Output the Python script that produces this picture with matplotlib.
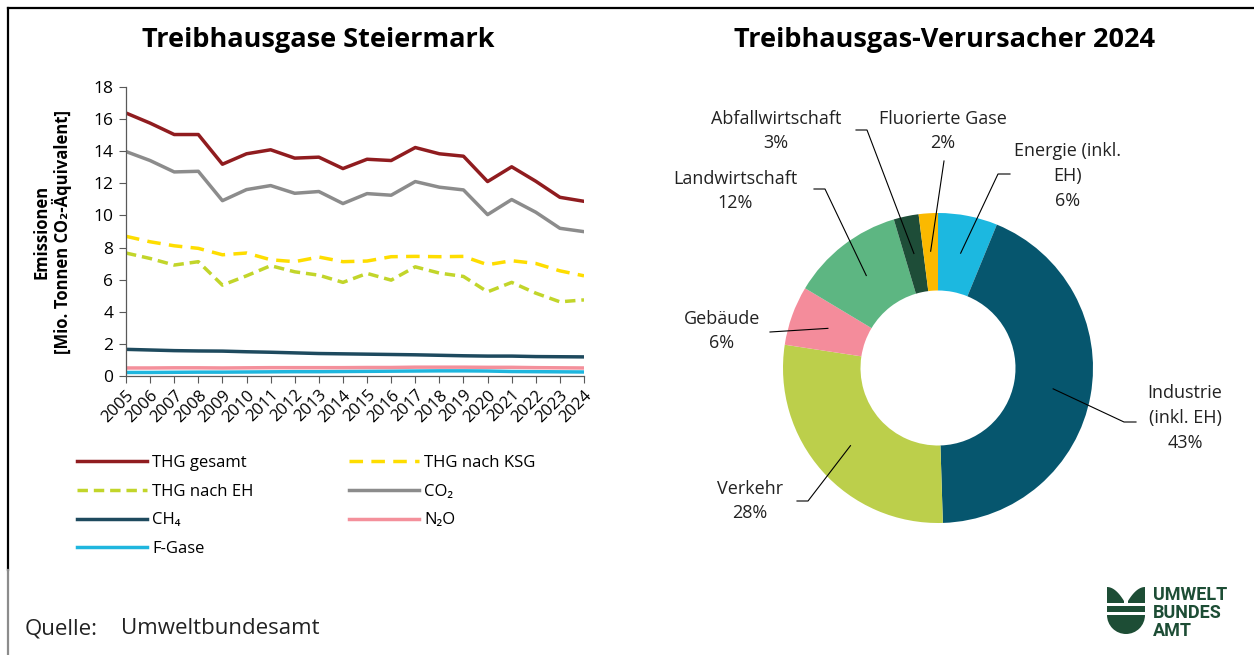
import matplotlib
matplotlib.use("Agg")
import numpy as np
import matplotlib.pyplot as plt
from matplotlib.lines import Line2D
from matplotlib.patches import Wedge, Rectangle, Polygon

plt.rcParams['font.family'] = ['Open Sans', 'DejaVu Sans']

W, H = 1254, 655

# ---- data: line chart ----
years = list(range(2005, 2025))
thg_gesamt = [16.38, 15.75, 15.04, 15.04, 13.19, 13.84, 14.09, 13.57, 13.63, 12.92,
              13.50, 13.42, 14.23, 13.84, 13.69, 12.11, 13.03, 12.13, 11.13, 10.88]
thg_ksg = [8.70, 8.36, 8.11, 7.95, 7.55, 7.66, 7.24, 7.12, 7.41, 7.12,
           7.16, 7.43, 7.45, 7.43, 7.45, 6.93, 7.18, 7.01, 6.55, 6.24]
thg_eh = [7.66, 7.32, 6.91, 7.12, 5.66, 6.24, 6.87, 6.49, 6.28, 5.83,
          6.39, 5.97, 6.80, 6.41, 6.20, 5.24, 5.83, 5.16, 4.62, 4.74]
co2 = [13.98, 13.42, 12.71, 12.75, 10.92, 11.61, 11.86, 11.38, 11.49, 10.74,
       11.36, 11.26, 12.11, 11.76, 11.59, 10.05, 10.99, 10.20, 9.20, 8.99]
ch4 = [1.66, 1.62, 1.58, 1.56, 1.55, 1.51, 1.48, 1.44, 1.40, 1.38,
       1.36, 1.34, 1.32, 1.29, 1.26, 1.24, 1.24, 1.21, 1.20, 1.19]
n2o = [0.50, 0.50, 0.51, 0.51, 0.50, 0.51, 0.52, 0.52, 0.52, 0.52,
       0.53, 0.53, 0.55, 0.55, 0.55, 0.54, 0.54, 0.52, 0.51, 0.50]
fgase = [0.22, 0.22, 0.23, 0.24, 0.24, 0.25, 0.26, 0.27, 0.27, 0.28,
         0.29, 0.30, 0.31, 0.32, 0.32, 0.31, 0.28, 0.27, 0.26, 0.25]

# ---- data: donut ----
sectors = ['Energie (inkl.\nEH)', 'Industrie\n(inkl. EH)', 'Verkehr', 'Gebäude',
           'Landwirtschaft', 'Abfallwirtschaft', 'Fluorierte Gase']
shares = [6.2, 43.3, 27.9, 6.2, 11.8, 2.6, 2.0]
share_labels = ['6%', '43%', '28%', '6%', '12%', '3%', '2%']
sector_colors = ['#1cb8e0', '#06566e', '#bccf4b', '#f48c9b', '#5db682', '#1e4d38', '#fbb900']

fig = plt.figure(figsize=(W / 100, H / 100), dpi=100)


def fx(x):
    return x / W


def fy(y):
    return 1 - y / H


# frame lines
fig.add_artist(Line2D([fx(8), 1], [fy(8), fy(8)], color='black', lw=1.6))
fig.add_artist(Line2D([fx(8), fx(8)], [fy(8), fy(570)], color='black', lw=1.6))
fig.add_artist(Line2D([fx(8), fx(8)], [fy(570), 0], color='#8c8c8c', lw=1.6))

# ---- line chart ----
ax = fig.add_axes([fx(126), fy(376), fx(584) - fx(126), fy(87) - fy(376)])
lw = 2.5
ax.plot(years, fgase, color='#1fb6de', lw=lw, label='F-Gase')
ax.plot(years, n2o, color='#f4909b', lw=lw, label='N₂O')
ax.plot(years, ch4, color='#1e4a5e', lw=lw, label='CH₄')
ax.plot(years, thg_eh, color='#c2d52a', lw=lw, ls=(0, (3.0, 1.7)), label='THG nach EH')
ax.plot(years, thg_ksg, color='#fedd00', lw=lw, ls=(0, (3.9, 2.4)), label='THG nach KSG')
ax.plot(years, co2, color='#8c8c8c', lw=lw, label='CO₂')
ax.plot(years, thg_gesamt, color='#901c1f', lw=lw, label='THG gesamt')

ax.set_xlim(2005, 2024)
ax.set_ylim(0, 18)
ax.set_yticks(range(0, 19, 2))
ax.set_xticks(years)
ax.set_xticklabels([str(y) for y in years], rotation=45, ha='right',
                   rotation_mode='anchor', fontsize=12)
ax.tick_params(axis='y', labelsize=12.5, length=5, color='#595959', pad=4)
ax.tick_params(axis='x', length=5, color='#595959', pad=3)
for s in ['top', 'right']:
    ax.spines[s].set_visible(False)
for s in ['left', 'bottom']:
    ax.spines[s].set_color('#595959')
    ax.spines[s].set_linewidth(0.9)
ax.set_facecolor('none')

fig.text(fx(52), fy(232), 'Emissionen\n[Mio. Tonnen CO₂-Äquivalent]', rotation=90,
         ha='center', va='center', ma='center', fontsize=12, fontweight='bold',
         linespacing=1.1)

handles = {l.get_label(): l for l in ax.get_lines()}
col1 = ['THG gesamt', 'THG nach EH', 'CH₄', 'F-Gase']
col2 = ['THG nach KSG', 'CO₂', 'N₂O']
leg_kw = dict(frameon=False, fontsize=12, handlelength=4.2, handletextpad=0.3,
              labelspacing=0.76, borderpad=0, borderaxespad=0, loc='upper left')
fig.legend([handles[k] for k in col1], col1, bbox_to_anchor=(fx(77), fy(455)), **leg_kw)
fig.legend([handles[k] for k in col2], col2, bbox_to_anchor=(fx(349), fy(455)), **leg_kw)

fig.text(fx(318), fy(40), 'Treibhausgase Steiermark', ha='center', va='center',
         fontsize=19.5, fontweight='bold')
fig.text(fx(944), fy(40), 'Treibhausgas-Verursacher 2024', ha='center', va='center',
         fontsize=19.5, fontweight='bold')

# ---- donut ----
ov = fig.add_axes([0, 0, 1, 1])
ov.set_facecolor('none')
cx, cy, R = 938, H - 368, 155
ov.pie(shares, colors=sector_colors, startangle=90, counterclock=False,
       center=(cx, cy), radius=R, wedgeprops=dict(width=R * 0.5, linewidth=0))
ov.set_xlim(0, W)
ov.set_ylim(0, H)
ov.set_aspect('auto')
ov.axis('off')

# label anchor (pixel coords): text centre, elbow points of leader
label_pos = [(1068, 176), (1185, 418), (750, 501), (722, 331),
             (735, 191), (776, 131), (943, 131)]
leader_pts = [[(1010, 174), (998, 174)], [(1136, 422), (1124, 422)],
              [(797, 501), (808, 501)], [(770, 332)],
              [(814, 189), (825, 189)], [(856, 130), (867, 130)],
              [(944, 161)]]

cum = np.cumsum([0] + shares[:-1])
for i, name in enumerate(sectors):
    mid = np.deg2rad((cum[i] + shares[i] / 2) / 100 * 360)
    r_in = 0.755 * R
    px_in = cx + r_in * np.sin(mid)
    py_in = cy + r_in * np.cos(mid)
    pts = [(x, H - y) for x, y in leader_pts[i]] + [(px_in, py_in)]
    xs, ys = zip(*pts)
    ov.plot(xs, ys, color='black', lw=0.8)
    tx, ty = label_pos[i]
    ov.text(tx, H - ty, name + '\n' + share_labels[i], ha='center', va='center',
            fontsize=13, color='#222222', linespacing=1.5)

# ---- source and logo ----
fig.text(fx(25), fy(629), 'Quelle:', ha='left', va='center', fontsize=16, color='#222222')
fig.text(fx(121), fy(629), 'Umweltbundesamt', ha='left', va='center', fontsize=16,
         color='#222222')

logo = '#1d4d35'
ov.add_patch(Wedge((1126, H - 615), 19, 180, 360, color=logo, lw=0))
ov.add_patch(Rectangle((1107, H - 612), 38, 6, color=logo, lw=0))
t = np.linspace(0, 1, 20)
left_leaf = [(1107, H - 603), (1107, H - 587)] + \
            [(1107 + 17 * s, H - 587 - 14 * s ** 2) for s in t] + [(1124, H - 603)]
right_leaf = [(1145, H - 603), (1145, H - 587)] + \
             [(1145 - 17 * s, H - 587 - 14 * s ** 2) for s in t] + [(1128, H - 603)]
ov.add_patch(Polygon(left_leaf, closed=True, color=logo, lw=0))
ov.add_patch(Polygon(right_leaf, closed=True, color=logo, lw=0))
for txt, yy in [('UMWELT', 595), ('BUNDES', 613), ('AMT', 631)]:
    ov.text(1153, H - yy, txt, ha='left', va='center', fontsize=13, fontweight='bold',
            color=logo, family=['Roboto', 'DejaVu Sans'])

fig.savefig('out.png', dpi=100)
